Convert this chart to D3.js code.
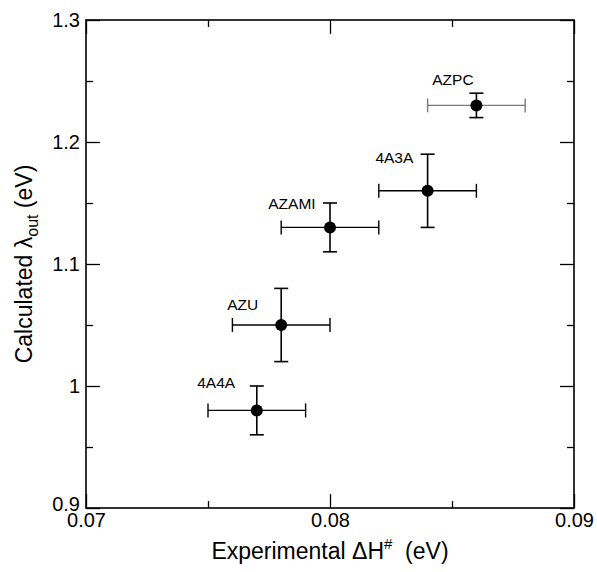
<!DOCTYPE html>
<html>
<head>
<meta charset="utf-8">
<script src="https://cdn.jsdelivr.net/npm/d3@7"></script>
<style>
    body { margin: 0; background: #fff; }
    svg text { font-family: 'Liberation Sans', Arial, sans-serif; fill: #000; }
    .domain { display: none; }
</style>
</head>
<body>
<div id="myChart"></div>
<script>
// data
let names = ['4A4A', 'AZU', 'AZAMI', '4A3A', 'AZPC'];
let dH = [0.077, 0.078, 0.08, 0.084, 0.086];
let dHErr = [0.002, 0.002, 0.002, 0.002, 0.002];
let lambdaOut = [0.98, 1.05, 1.13, 1.16, 1.23];
let lambdaErr = [0.02, 0.03, 0.02, 0.03, 0.01];
// where each name sits (data units: start of text, baseline)
let labelX = [0.07456, 0.07579, 0.07747, 0.08186, 0.08419];
let labelY = [0.998, 1.062, 1.145, 1.183, 1.247];

let xMajor = [0.07, 0.08, 0.09];
let xMinor = [0.075, 0.085];
let xTickLabels = ['0.07', '0.08', '0.09'];
let yMajor = [0.9, 1.0, 1.1, 1.2, 1.3];
let yMinor = [0.95, 1.05, 1.15, 1.25];
let yTickLabels = ['0.9', '1', '1.1', '1.2', '1.3'];

let margin = { top: 20, right: 23, bottom: 64, left: 86 };
let width = 597 - margin.left - margin.right;
let height = 572 - margin.top - margin.bottom;

let svg = d3
    .select('#myChart')
    .append('svg')
    .attr('width', 597)
    .attr('height', 572);

let g = svg.append('g')
    .attr('transform', 'translate(' + margin.left + ',' + margin.top + ')');

let x = d3.scaleLinear().domain([0.07, 0.09]).range([0, width]);
let y = d3.scaleLinear().domain([0.9, 1.3]).range([height, 0]);

function styleAxis(sel) {
    sel.selectAll('line').attr('stroke', '#000').attr('stroke-width', 1.3);
    sel.selectAll('text').style('font-size', '20px').attr('fill', '#000');
}

// bottom axis
g.append('g')
    .attr('transform', 'translate(0,' + height + ')')
    .call(d3.axisBottom(x).tickValues(xMajor).tickSize(-14).tickPadding(5)
        .tickFormat((d, i) => xTickLabels[i]))
    .call(styleAxis);
g.append('g')
    .attr('transform', 'translate(0,' + height + ')')
    .call(d3.axisBottom(x).tickValues(xMinor).tickSize(-7).tickFormat(''))
    .call(styleAxis);

// top axis
g.append('g')
    .call(d3.axisTop(x).tickValues(xMajor).tickSize(-14).tickFormat(''))
    .call(styleAxis);
g.append('g')
    .call(d3.axisTop(x).tickValues(xMinor).tickSize(-7).tickFormat(''))
    .call(styleAxis);

// left axis
g.append('g')
    .call(d3.axisLeft(y).tickValues(yMajor).tickSize(-14).tickPadding(6)
        .tickFormat((d, i) => yTickLabels[i]))
    .call(styleAxis);
g.append('g')
    .call(d3.axisLeft(y).tickValues(yMinor).tickSize(-7).tickFormat(''))
    .call(styleAxis);
// the bottom "0.9" sits a little above its tick
g.selectAll('.tick text').filter((d) => d === 0.9).attr('dy', '0.1em');

// right axis
g.append('g')
    .attr('transform', 'translate(' + width + ',0)')
    .call(d3.axisRight(y).tickValues(yMajor).tickSize(-14).tickFormat(''))
    .call(styleAxis);
g.append('g')
    .attr('transform', 'translate(' + width + ',0)')
    .call(d3.axisRight(y).tickValues(yMinor).tickSize(-7).tickFormat(''))
    .call(styleAxis);

// frame
g.append('rect')
    .attr('width', width)
    .attr('height', height)
    .attr('fill', 'none')
    .attr('stroke', '#000')
    .attr('stroke-width', 1.6);

let points = names.map((n, i) => ({
    name: n, x: dH[i], xe: dHErr[i], y: lambdaOut[i], ye: lambdaErr[i],
    lx: labelX[i], ly: labelY[i]
}));

let cap = 7;
let err = g.selectAll('.err').data(points).enter().append('g').attr('class', 'err');

// horizontal bars (AZPC one looks grey in the original)
err.each(function (d) {
    let col = d.name === 'AZPC' ? '#7a7a7a' : '#000';
    let s = d3.select(this);
    s.append('line')
        .attr('x1', x(d.x - d.xe)).attr('x2', x(d.x + d.xe))
        .attr('y1', y(d.y)).attr('y2', y(d.y))
        .attr('stroke', col).attr('stroke-width', 1.4);
    [d.x - d.xe, d.x + d.xe].forEach((v) => {
        s.append('line')
            .attr('x1', x(v)).attr('x2', x(v))
            .attr('y1', y(d.y) - cap).attr('y2', y(d.y) + cap)
            .attr('stroke', col).attr('stroke-width', 1.4);
    });
    // vertical bar
    s.append('line')
        .attr('x1', x(d.x)).attr('x2', x(d.x))
        .attr('y1', y(d.y - d.ye)).attr('y2', y(d.y + d.ye))
        .attr('stroke', '#000').attr('stroke-width', 1.6);
    [d.y - d.ye, d.y + d.ye].forEach((v) => {
        s.append('line')
            .attr('x1', x(d.x) - cap).attr('x2', x(d.x) + cap)
            .attr('y1', y(v)).attr('y2', y(v))
            .attr('stroke', '#000').attr('stroke-width', 1.6);
    });
});

g.selectAll('.dot')
    .data(points)
    .enter()
    .append('circle')
    .attr('class', 'dot')
    .attr('cx', (d) => x(d.x))
    .attr('cy', (d) => y(d.y))
    .attr('r', 6)
    .attr('fill', '#000');

g.selectAll('.name')
    .data(points)
    .enter()
    .append('text')
    .attr('class', 'name')
    .attr('x', (d) => x(d.lx))
    .attr('y', (d) => y(d.ly))
    .style('font-size', '15.5px')
    .text((d) => d.name);

// axis titles
let xt = svg.append('text')
    .attr('x', margin.left + width / 2)
    .attr('y', 559)
    .style('text-anchor', 'middle')
    .style('font-size', '23px');
xt.append('tspan').text('Experimental \u0394H');
xt.append('tspan').attr('dy', -10).style('font-size', '15px').text('#');
xt.append('tspan').attr('dy', 10).text('\u00a0 (eV)');

let yt = svg.append('text')
    .attr('transform', 'translate(32,' + (margin.top + height / 2) + ') rotate(-90)')
    .style('text-anchor', 'middle')
    .style('font-size', '23px');
yt.append('tspan').text('Calculated \u03bb');
yt.append('tspan').attr('dy', 6).style('font-size', '16px').text('out');
yt.append('tspan').attr('dy', -6).text(' (eV)');
</script>
</body>
</html>
